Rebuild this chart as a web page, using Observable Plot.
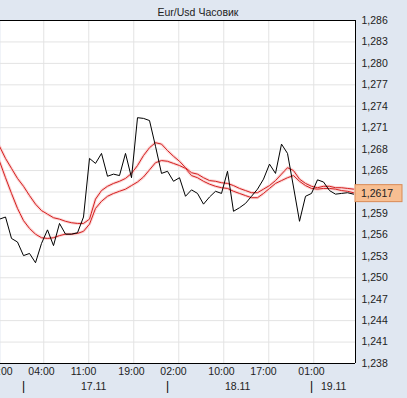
<!DOCTYPE html>
<html><head><meta charset="utf-8">
<script src="https://cdn.jsdelivr.net/npm/d3@7"></script>
<script src="https://cdn.jsdelivr.net/npm/@observablehq/plot@0.6"></script>
<style>
body{margin:0;background:#e0e7f1;font-family:"Liberation Sans",Arial,sans-serif;}
#wrap{position:relative;width:407px;height:398px;overflow:hidden;}
#title{position:absolute;left:0;top:6px;width:396px;text-align:center;font-size:10.5px;color:#222;line-height:12px;}
#chart{position:absolute;left:0;top:14px;}
</style></head><body>
<div id="wrap"><div id="title">Eur/Usd Часовик</div><div id="chart"></div></div>
<script>
// hourly bar index (bar 6 = 04:00 on 17.11)
const bars = d3.range(-1, 59);
const close = [1.2582,1.2585,1.2555,1.2550,1.2531,1.2534,1.2521,1.2548,1.2567,1.2545,
  1.2576,1.2561,1.2561,1.2563,1.2585,1.2667,1.2660,1.2674,1.2642,1.2645,
  1.2643,1.2674,1.2640,1.2724,1.2723,1.2720,1.2684,1.2646,1.2649,1.2635,
  1.2640,1.2614,1.2623,1.2618,1.2603,1.2613,1.2621,1.2618,1.2649,1.2593,
  1.2598,1.2604,1.2614,1.2624,1.2638,1.2659,1.2646,1.2687,1.2674,1.2627,
  1.2579,1.2614,1.2618,1.2637,1.2634,1.2622,1.2617,1.2618,1.2619,1.2617];
const maUpper = [1.2684,1.2667,1.2653,1.2639,1.2628,1.2615,1.2603,1.2594,1.2589,1.2584,
  1.2582,1.2579,1.2577,1.2576,1.2576,1.2582,1.2610,1.2622,1.2628,1.2632,
  1.2635,1.2639,1.2646,1.2657,1.2671,1.2682,1.2689,1.2687,1.2678,1.2670,
  1.2663,1.2654,1.2647,1.2645,1.2640,1.2636,1.2635,1.2633,1.2632,1.2629,
  1.2625,1.2622,1.2619,1.2619,1.2624,1.2629,1.2636,1.2645,1.2654,1.2650,
  1.2638,1.2632,1.2628,1.2626,1.2628,1.2628,1.2626,1.2626,1.2625,1.2624];
const maLower = [1.2663,1.2640,1.2618,1.2597,1.2580,1.2569,1.2561,1.2556,1.2555,1.2556,
  1.2559,1.2561,1.2561,1.2562,1.2565,1.2575,1.2597,1.2607,1.2614,1.2618,
  1.2621,1.2624,1.2629,1.2634,1.2641,1.2651,1.2661,1.2664,1.2663,1.2660,
  1.2657,1.2653,1.2643,1.2640,1.2635,1.2631,1.2628,1.2626,1.2625,1.2621,
  1.2618,1.2615,1.2612,1.2612,1.2618,1.2625,1.2632,1.2636,1.2640,1.2643,
  1.2635,1.2629,1.2625,1.2624,1.2625,1.2625,1.2624,1.2622,1.2621,1.2619];
const yTicks = [1.238,1.241,1.244,1.247,1.250,1.253,1.256,1.259,1.262,1.265,1.268,1.271,1.274,1.277,1.280,1.283,1.286];
const gridBars = [6.38,13.88,21.38,28.88,36.38,43.88,51.38];
const timeLabels = ["21:00","04:00","11:00","19:00","02:00","10:00","17:00","01:00"];
const timeLabelBars = [-1,6,13,21,28,36,43,51];
const dayMarkBars = [3,27,51];
const dateLabels = ["17.11","18.11","19.11"];
const dateLabelBars = [14.7,38.7,54.7];
const lastPrice = 1.2617;

const rows = bars.map((b, i) => ({bar: b, close: close[i], up: maUpper[i], lo: maLower[i]}));
const fmt = d => d.toFixed(3).replace(".", ",");
const xDomain = [-5/6, 350/6];

const plot = Plot.plot({
  width: 407, height: 384,
  marginLeft: 0, marginRight: 52, marginTop: 6, marginBottom: 35,
  style: {background: "transparent", fontFamily: "'Liberation Sans', Arial, sans-serif", fontSize: "10.5px", color: "#222", overflow: "hidden"},
  x: {domain: xDomain, axis: null},
  y: {domain: [1.238, 1.286], axis: null},
  marks: [
    Plot.frame({fill: "white", stroke: null}),
    Plot.ruleY(yTicks, {stroke: "#e3e3e3"}),
    Plot.ruleX(gridBars, {stroke: "#e3e3e3"}),
    Plot.line(rows, {x: "bar", y: "up", stroke: "#fbd6d6", strokeWidth: 3, clip: true}),
    Plot.line(rows, {x: "bar", y: "lo", stroke: "#fbd6d6", strokeWidth: 3, clip: true}),
    Plot.line(rows, {x: "bar", y: "up", stroke: "#d42020", strokeWidth: 1, clip: true}),
    Plot.line(rows, {x: "bar", y: "lo", stroke: "#d42020", strokeWidth: 1, clip: true}),
    Plot.line(rows, {x: "bar", y: "close", stroke: "black", strokeWidth: 1, clip: true}),
    Plot.ruleY([1.238, 1.286], {stroke: "black"}),
    Plot.ruleX([xDomain[1]], {stroke: "black"}),
    Plot.text(yTicks.filter(t => Math.abs(t - 1.262) > 1e-9), {y: d => d, text: fmt, frameAnchor: "right", textAnchor: "start", dx: 6, fill: "#222"}),
    Plot.text(timeLabels, {x: (d, i) => timeLabelBars[i], text: d => d, frameAnchor: "bottom", lineAnchor: "middle", dy: 8.5, fill: "#222"}),
    Plot.text(dateLabels, {x: (d, i) => dateLabelBars[i], text: d => d, frameAnchor: "bottom", lineAnchor: "middle", dy: 23.5, fill: "#222"}),
    Plot.text(dayMarkBars, {x: d => d, text: () => "|", frameAnchor: "bottom", lineAnchor: "middle", dy: 23, fontSize: 12, fill: "black"})
  ]
});
document.getElementById("chart").appendChild(plot);

// current price box on the right axis
const svg = d3.select(plot);
const yy = plot.scale("y").apply(lastPrice);
const xr = plot.scale("x").apply(xDomain[1]);
const g = svg.append("g");
g.append("rect").attr("x", xr).attr("y", yy - 9).attr("width", 47).attr("height", 17)
  .attr("fill", "#f8bf92").attr("stroke", "#d98a55");
g.append("text").attr("x", xr + 6).attr("y", yy).attr("dy", "0.35em").attr("text-anchor", "start")
  .attr("fill", "#222").attr("font-size", "10.5px").text(lastPrice.toFixed(4).replace(".", ","));
</script>
</body></html>
